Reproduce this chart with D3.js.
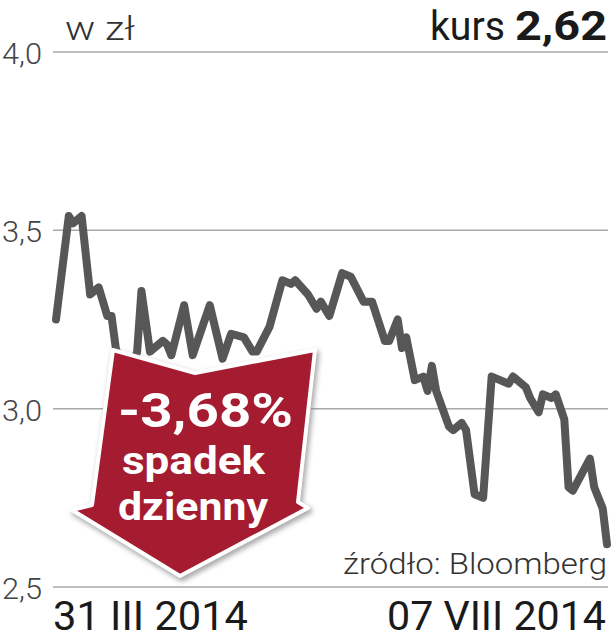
<!DOCTYPE html>
<meta charset="utf-8">
<script src="https://d3js.org/d3.v7.min.js"></script>
<style>
  body { margin: 0; background: #fff; }
  text { font-family: Roboto, "Noto Sans", sans-serif; }
</style>
<body>
<svg id="vis" width="611" height="640"></svg>
<script>
// days since 31 III 2014 and closing price (zł)
var days = [0, 3, 4, 6, 8, 10, 12, 13, 14, 16, 18, 19, 20, 22, 25, 26, 27, 30, 32, 36,
  39, 41, 44, 46, 47, 50, 53, 55, 56, 59, 61, 62, 64, 67, 69, 72, 74, 77, 78, 80,
  81, 82, 84, 86, 87, 88, 89, 92, 93, 95, 96, 98, 100, 102, 106, 107, 110, 111, 113, 114,
  116, 117, 119, 120, 121, 125, 126, 128, 129];
var prices = [3.25, 3.54, 3.52, 3.54, 3.32, 3.34, 3.26, 3.26, 3.17, 3.09, 3.12, 3.16, 3.33, 3.16, 3.19, 3.18, 3.15, 3.29, 3.15, 3.29,
  3.14, 3.21, 3.20, 3.16, 3.16, 3.23, 3.36, 3.35, 3.36, 3.32, 3.28, 3.30, 3.26, 3.38, 3.37, 3.30, 3.30, 3.19, 3.19, 3.25,
  3.17, 3.20, 3.08, 3.09, 3.05, 3.12, 3.05, 2.95, 2.94, 2.96, 2.94, 2.76, 2.75, 3.09, 3.07, 3.09, 3.06, 3.03, 2.99, 3.04,
  3.03, 3.04, 2.97, 2.78, 2.77, 2.86, 2.78, 2.72, 2.62];
var yTicks = [4.0, 3.5, 3.0, 2.5];
var yTickLabels = ["4,0", "3,5", "3,0", "2,5"];
var startLabel = "31 III 2014";
var endLabel = "07 VIII 2014";
var lastPrice = "2,62";
var dropLabel = ["-3,68%", "spadek", "dzienny"];

var svg = d3.select("#vis");

var x = d3.scaleLinear().domain([0, 129]).range([56, 607]);
var y = d3.scaleLinear().domain([2.5, 4.0]).range([587, 52]);

// grid lines
svg.append("g")
  .selectAll("line")
  .data(yTicks)
  .enter().append("line")
    .attr("x1", 53).attr("x2", 608)
    .attr("y1", function(d) { return y(d); })
    .attr("y2", function(d) { return y(d); })
    .attr("stroke", "#a8a8a8")
    .attr("stroke-width", 1.5);

// tick labels
svg.append("g")
  .selectAll("text")
  .data(yTicks)
  .enter().append("text")
    .attr("x", 2)
    .attr("y", function(d) { return y(d) + 12; })
    .attr("font-size", 29)
    .attr("font-weight", 300)
    .attr("fill", "#444")
    .attr("textLength", 40)
    .attr("lengthAdjust", "spacingAndGlyphs")
    .text(function(d, i) { return yTickLabels[i]; });

// header
svg.append("text").attr("x", 65).attr("y", 40)
  .attr("font-size", 34).attr("font-weight", 300).attr("fill", "#333")
  .attr("textLength", 70).attr("lengthAdjust", "spacingAndGlyphs")
  .text("w zł");
svg.append("text").attr("x", 430).attr("y", 40)
  .attr("font-size", 40).attr("fill", "#1a1a1a")
  .attr("textLength", 75).attr("lengthAdjust", "spacingAndGlyphs")
  .text("kurs");
svg.append("text").attr("x", 515).attr("y", 40)
  .attr("font-size", 41).attr("font-weight", 700).attr("fill", "#1a1a1a")
  .attr("textLength", 92).attr("lengthAdjust", "spacingAndGlyphs")
  .text(lastPrice);

// price line
var line = d3.line()
  .x(function(d, i) { return x(days[i]); })
  .y(function(d) { return y(d); });
svg.append("path")
  .datum(prices)
  .attr("d", line)
  .attr("fill", "none")
  .attr("stroke", "#575757")
  .attr("stroke-width", 8)
  .attr("stroke-linejoin", "round")
  .attr("stroke-linecap", "round");

// source + dates
svg.append("text").attr("x", 343).attr("y", 574)
  .attr("font-size", 30).attr("font-weight", 300).attr("fill", "#333")
  .attr("textLength", 264).attr("lengthAdjust", "spacingAndGlyphs")
  .text("źródło: Bloomberg");
svg.append("text").attr("x", 53).attr("y", 630)
  .attr("font-size", 40).attr("fill", "#1a1a1a")
  .attr("textLength", 195).attr("lengthAdjust", "spacingAndGlyphs")
  .text(startLabel);
svg.append("text").attr("x", 387).attr("y", 630)
  .attr("font-size", 40).attr("fill", "#1a1a1a")
  .attr("textLength", 219).attr("lengthAdjust", "spacingAndGlyphs")
  .text(endLabel);

// red arrow
var defs = svg.append("defs");
defs.append("filter").attr("id", "shadow")
  .append("feGaussianBlur").attr("stdDeviation", 2.5);
var arrowPts = [[113,350],[195,373],[315,350],[298,502],[308,508],[180,576],[72,510],[92,505]];
var arrowPath = "M" + arrowPts.join("L") + "Z";
svg.append("path").attr("d", arrowPath)
  .attr("transform", "translate(2,3)")
  .attr("fill", "#888").attr("stroke", "#888").attr("stroke-width", 5)
  .attr("stroke-linejoin", "round")
  .attr("filter", "url(#shadow)").attr("opacity", 0.7);
svg.append("path").attr("d", arrowPath)
  .attr("fill", "#a51c30").attr("stroke", "#fff").attr("stroke-width", 4)
  .attr("stroke-linejoin", "round");

var label = svg.append("g").attr("fill", "#fff").attr("font-weight", 700);
label.append("text").attr("x", 118).attr("y", 427)
  .attr("font-size", 48)
  .attr("textLength", 175).attr("lengthAdjust", "spacingAndGlyphs")
  .text(dropLabel[0]);
label.append("text").attr("x", 122).attr("y", 474)
  .attr("font-size", 38)
  .attr("textLength", 143).attr("lengthAdjust", "spacingAndGlyphs")
  .text(dropLabel[1]);
label.append("text").attr("x", 118).attr("y", 520)
  .attr("font-size", 38)
  .attr("textLength", 150).attr("lengthAdjust", "spacingAndGlyphs")
  .text(dropLabel[2]);
</script>
</body>
